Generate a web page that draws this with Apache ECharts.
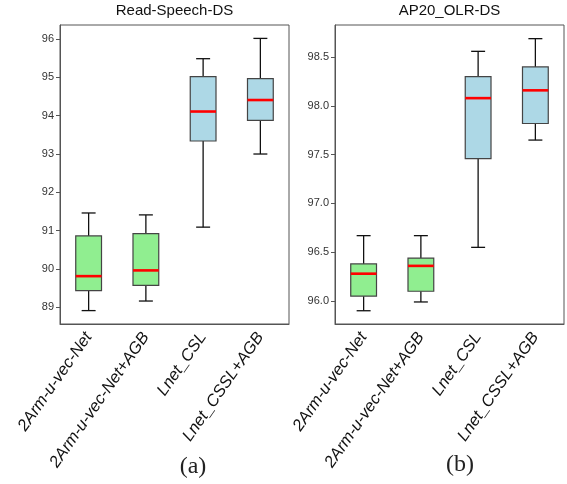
<!DOCTYPE html>
<html>
<head>
<meta charset="utf-8">
<script src="https://cdn.jsdelivr.net/npm/echarts@6/dist/echarts.min.js"></script>
<style>
  html, body { margin: 0; padding: 0; background: #fff; }
  #chart { width: 567px; height: 484px; }
</style>
</head>
<body>
<div id="chart"></div>
<script>
const methods = ['2Arm-u-vec-Net', '2Arm-u-vec-Net+AGB', 'Lnet_CSL', 'Lnet_CSSL+AGB'];
// five-number summaries: [low whisker, Q1, median, Q3, high whisker]
const readSpeechStats = [
  [88.91, 89.43, 89.81, 90.86, 91.46],
  [89.16, 89.57, 89.96, 90.92, 91.41],
  [91.09, 93.34, 94.11, 95.02, 95.49],
  [93.00, 93.88, 94.41, 94.97, 96.02]
];
const ap20Stats = [
  [95.90, 96.05, 96.28, 96.38, 96.67],
  [95.99, 96.10, 96.36, 96.44, 96.67],
  [96.55, 97.46, 98.08, 98.30, 98.56],
  [97.65, 97.82, 98.16, 98.40, 98.69]
];
const readSpeechTicks = [89, 90, 91, 92, 93, 94, 95, 96];
const ap20Ticks = [96.0, 96.5, 97.0, 97.5, 98.0, 98.5];
const boxColors = ['#90ee90', '#90ee90', '#add8e6', '#add8e6'];

// box + whiskers + red median, all positioned through the axes
function drawBox(params, api) {
  const i = api.value(0);
  const lo = api.coord([i, api.value(1)]);
  const q1 = api.coord([i, api.value(2)]);
  const md = api.coord([i, api.value(3)]);
  const q3 = api.coord([i, api.value(4)]);
  const hi = api.coord([i, api.value(5)]);
  const band = api.size([1, 0])[0];
  const cx = lo[0];
  const half = band * 0.225;
  const cap = band * 0.122;
  const line = { stroke: '#111', lineWidth: 1.3 };
  return {
    type: 'group',
    children: [
      { type: 'line', shape: { x1: cx, y1: lo[1], x2: cx, y2: q1[1] }, style: line },
      { type: 'line', shape: { x1: cx, y1: q3[1], x2: cx, y2: hi[1] }, style: line },
      { type: 'line', shape: { x1: cx - cap, y1: lo[1], x2: cx + cap, y2: lo[1] }, style: line },
      { type: 'line', shape: { x1: cx - cap, y1: hi[1], x2: cx + cap, y2: hi[1] }, style: line },
      {
        type: 'rect',
        shape: { x: cx - half, y: q3[1], width: half * 2, height: q1[1] - q3[1] },
        style: { fill: boxColors[i], stroke: '#444', lineWidth: 1.2 }
      },
      { type: 'line', shape: { x1: cx - half, y1: md[1], x2: cx + half, y2: md[1] }, style: { stroke: '#ff0000', lineWidth: 2.6 } }
    ]
  };
}

function xAxisFor(gridIndex) {
  return {
    type: 'category',
    gridIndex: gridIndex,
    data: methods,
    axisLine: { lineStyle: { color: '#555' } },
    axisTick: { alignWithLabel: true, length: 4, lineStyle: { color: '#555' } },
    axisLabel: {
      interval: 0,
      rotate: 55,
      margin: 10,
      fontSize: 16.5,
      fontStyle: 'italic',
      fontFamily: 'Liberation Sans',
      color: '#111'
    }
  };
}

function yAxisFor(gridIndex, min, max, ticks, fmt) {
  return {
    type: 'value',
    gridIndex: gridIndex,
    min: min,
    max: max,
    splitLine: { show: false },
    axisLine: { show: true, lineStyle: { color: '#555' } },
    axisTick: { show: true, length: 4, customValues: ticks, lineStyle: { color: '#555' } },
    axisLabel: {
      customValues: ticks,
      formatter: fmt,
      fontSize: 11,
      fontFamily: 'Liberation Sans',
      color: '#333',
      margin: 6
    }
  };
}

let myChart = echarts.init(document.getElementById('chart'));
let option = {
  animation: false,
  grid: [
    { left: 60, right: 278, top: 25, bottom: 160, show: true, borderColor: '#555', borderWidth: 1 },
    { left: 335, right: 3, top: 25, bottom: 160, show: true, borderColor: '#555', borderWidth: 1 }
  ],
  xAxis: [xAxisFor(0), xAxisFor(1)],
  yAxis: [
    yAxisFor(0, 88.56, 96.37, readSpeechTicks, v => String(v)),
    yAxisFor(1, 95.764, 98.83, ap20Ticks, v => v.toFixed(1))
  ],
  graphic: [
    { type: 'text', x: 174.5, y: 3, style: { text: 'Read-Speech-DS', align: 'center', verticalAlign: 'top', font: '15px "Liberation Sans"', fill: '#111' } },
    { type: 'text', x: 449.5, y: 3, style: { text: 'AP20_OLR-DS', align: 'center', verticalAlign: 'top', font: '15px "Liberation Sans"', fill: '#111' } },
    { type: 'text', x: 193, y: 467, style: { text: '(a)', align: 'center', verticalAlign: 'middle', font: '24px "Liberation Serif"', fill: '#222' } },
    { type: 'text', x: 460, y: 465, style: { text: '(b)', align: 'center', verticalAlign: 'middle', font: '24px "Liberation Serif"', fill: '#222' } }
  ],
  series: [
    {
      type: 'custom',
      xAxisIndex: 0,
      yAxisIndex: 0,
      renderItem: drawBox,
      encode: { x: 0, y: [1, 2, 3, 4, 5] },
      data: readSpeechStats.map((s, i) => [i].concat(s))
    },
    {
      type: 'custom',
      xAxisIndex: 1,
      yAxisIndex: 1,
      renderItem: drawBox,
      encode: { x: 0, y: [1, 2, 3, 4, 5] },
      data: ap20Stats.map((s, i) => [i].concat(s))
    }
  ]
};
myChart.setOption(option);
</script>
</body>
</html>
